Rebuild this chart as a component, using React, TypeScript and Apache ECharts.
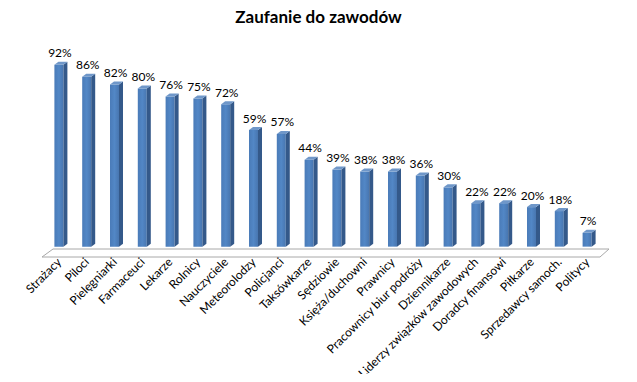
import React, { useEffect, useRef } from "react";
import * as echarts from "echarts";

const titleText = "Zaufanie do zawodów";
const categories = [
  "Strażacy",
  "Piloci",
  "Pielęgniarki",
  "Farmaceuci",
  "Lekarze",
  "Rolnicy",
  "Nauczyciele",
  "Meteorolodzy",
  "Policjanci",
  "Taksówkarze",
  "Sędziowie",
  "Księża/duchowni",
  "Prawnicy",
  "Pracownicy biur podróży",
  "Dziennikarze",
  "Liderzy związków zawodowych",
  "Doradcy finansowi",
  "Piłkarze",
  "Sprzedawcy samoch.",
  "Politycy",
];
const values = [92, 86, 82, 80, 76, 75, 72, 59, 57, 44, 39, 38, 38, 36, 30, 22, 22, 20, 18, 7];

const FONT = "Lato, 'Liberation Sans', sans-serif";

export default function App() {
  const ref = useRef<HTMLDivElement>(null);
  useEffect(() => {
    const chart = echarts.init(ref.current!, null, { renderer: "svg" });
    const halfW = 4.5;
    const dx = 4;
    const dy = 3;
    chart.setOption({
      animation: false,
      backgroundColor: "#ffffff",
      title: {
        text: titleText,
        left: "center",
        top: 3,
        textStyle: { fontFamily: FONT, fontWeight: "bold", fontSize: 17, color: "#000" },
      },
      grid: { left: 45, right: 36, top: 49, bottom: 128, containLabel: false },
      xAxis: {
        type: "category",
        data: categories,
        axisLine: { show: false },
        axisTick: { show: false },
        axisLabel: {
          interval: 0,
          rotate: 45,
          margin: 13,
          fontFamily: FONT,
          fontSize: 12,
          color: "#000",
        },
      },
      yAxis: { type: "value", min: 0, max: 100, show: false, splitLine: { show: false } },
      graphic: [
        {
          type: "polygon",
          z: 0,
          shape: { points: [[42, 257], [53, 249], [609, 249], [600, 257]] },
          style: { fill: "#ffffff", stroke: "#a8a8a8", lineWidth: 1 },
        },
      ],
      series: [
        {
          type: "custom",
          z: 5,
          data: values.map((v, i) => [i, v]),
          renderItem: (params: any, api: any) => {
            const i = api.value(0);
            const v = api.value(1);
            const top = api.coord([i, v]);
            const base = api.coord([i, 0]);
            const x = top[0];
            const ty = top[1];
            const by = base[1];
            return {
              type: "group",
              children: [
                {
                  type: "rect",
                  shape: { x: x - halfW, y: ty, width: halfW * 2, height: by - ty },
                  style: {
                    fill: new echarts.graphic.LinearGradient(0, 0, 1, 0, [
                      { offset: 0, color: "#4a7bb8" },
                      { offset: 0.5, color: "#5287c6" },
                      { offset: 1, color: "#4876b0" },
                    ]),
                  },
                },
                {
                  type: "polygon",
                  shape: {
                    points: [
                      [x + halfW, ty],
                      [x + halfW + dx, ty - dy],
                      [x + halfW + dx, by - dy],
                      [x + halfW, by],
                    ],
                  },
                  style: { fill: "#34598a" },
                },
                {
                  type: "polygon",
                  shape: {
                    points: [
                      [x - halfW, ty],
                      [x - halfW + dx, ty - dy],
                      [x + halfW + dx, ty - dy],
                      [x + halfW, ty],
                    ],
                  },
                  style: { fill: "#6f97c9" },
                },
                {
                  type: "text",
                  style: {
                    text: v + "%",
                    x: x + 1,
                    y: ty - 6,
                    textAlign: "center",
                    textVerticalAlign: "bottom",
                    fontFamily: FONT,
                    fontSize: 12,
                    fill: "#000",
                  },
                },
              ],
            };
          },
        },
      ],
    });
    return () => chart.dispose();
  }, []);
  return <div ref={ref} style={{ width: 637, height: 382, margin: -8 }} />;
}
